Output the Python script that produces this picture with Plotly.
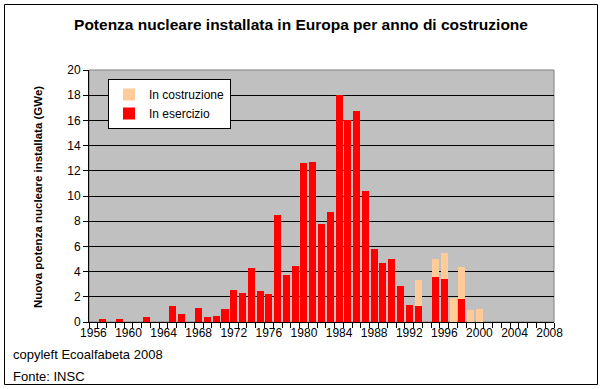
import plotly.graph_objects as go

years = list(range(1956, 2009))
in_esercizio = [0, 0.25, 0, 0.25, 0, 0, 0.42, 0, 0, 1.27,
                0.62, 0, 1.1, 0.4, 0.48, 1.03, 2.54, 2.3, 4.29, 2.46,
                2.22, 8.5, 3.7, 4.42, 12.6, 12.67, 7.75, 8.7, 18.0, 16.0,
                16.75, 10.37, 5.77, 4.68, 5.0, 2.83, 1.33, 1.25, 0, 3.55,
                3.39, 0, 1.8, 0, 0, 0, 0, 0, 0, 0,
                0, 0, 0]
in_costruzione = [0, 0, 0, 0, 0, 0, 0, 0, 0, 0,
                  0, 0, 0, 0, 0, 0, 0, 0, 0, 0,
                  0, 0, 0, 0, 0, 0, 0, 0, 0, 0,
                  0, 0, 0, 0, 0, 0, 0, 2.06, 0, 1.43,
                  2.09, 1.88, 2.54, 0.98, 1.03, 0, 0, 0, 0, 0,
                  0, 0, 0]
tick_years = [1956, 1960, 1964, 1968, 1972, 1976, 1980, 1984, 1988, 1992, 1996, 2000, 2004, 2008]

FONT = "Liberation Sans, Arial, sans-serif"

fig = go.Figure()
fig.add_trace(go.Bar(x=years, y=in_esercizio, name="In esercizio",
                     marker=dict(color="#FF0000", line=dict(width=0))))
fig.add_trace(go.Bar(x=years, y=in_costruzione, name="In costruzione",
                     marker=dict(color="#FFCC99", line=dict(width=0))))

L, R, T, B = 89, 48, 70, 67
W, H = 602, 389
pw, ph = W - L - R, H - T - B

def px_x(x):
    return (x - L) / pw

def px_y(y):
    return (H - B - y) / ph

fig.update_layout(
    width=W, height=H,
    margin=dict(l=L, r=R, t=T, b=B, pad=0),
    barmode="stack", bargap=0.2,
    paper_bgcolor="white", plot_bgcolor="#C0C0C0",
    font=dict(family=FONT, size=12, color="black"),
    title=dict(text="<b>Potenza nucleare installata in Europa per anno di costruzione</b>",
               x=0.5, xanchor="center", y=1 - 25 / H, yanchor="middle",
               font=dict(size=15.5, family=FONT, color="black")),
    showlegend=True,
    legend=dict(x=px_x(108), y=px_y(79), xanchor="left", yanchor="top",
                bgcolor="white", bordercolor="black", borderwidth=1,
                traceorder="reversed", font=dict(size=12, family=FONT),
                itemwidth=30, tracegroupgap=0),
    xaxis=dict(range=[1955.5, 2008.5], tickmode="array", tickvals=tick_years,
               ticktext=[str(t) for t in tick_years], ticks="",
               showline=True, linecolor="black", linewidth=1,
               showgrid=False, zeroline=False,
               tickfont=dict(size=12, family=FONT),
               minor=dict(ticks="outside", tick0=1955.5, dtick=1, ticklen=5,
                          tickcolor="black", showgrid=False)),
    yaxis=dict(range=[0, 20], tickmode="linear", tick0=0, dtick=2,
               ticks="outside", ticklen=5, tickcolor="black",
               showline=True, linecolor="black", linewidth=1,
               showgrid=True, gridcolor="black", gridwidth=1,
               zeroline=False, tickfont=dict(size=12, family=FONT)),
    shapes=[
        dict(type="rect", xref="paper", yref="paper", x0=0, x1=1, y0=0, y1=1,
             line=dict(color="#808080", width=1), layer="below"),
        dict(type="rect", xref="paper", yref="paper",
             x0=px_x(4.5), x1=px_x(597.5), y0=px_y(384.5), y1=px_y(4.5),
             line=dict(color="black", width=1)),
    ],
    annotations=[
        dict(text="<b>Nuova potenza nucleare installata (GWe)</b>", textangle=-90,
             xref="paper", yref="paper", x=px_x(38), y=px_y(197), showarrow=False,
             xanchor="center", yanchor="middle", font=dict(size=11.5, family=FONT)),
        dict(text="copyleft Ecoalfabeta 2008", xref="paper", yref="paper",
             x=px_x(11), y=px_y(354), xanchor="left", yanchor="middle",
             showarrow=False, font=dict(size=13, family=FONT)),
        dict(text="Fonte: INSC", xref="paper", yref="paper",
             x=px_x(11), y=px_y(376), xanchor="left", yanchor="middle",
             showarrow=False, font=dict(size=13, family=FONT)),
    ],
)

fig.write_html("out.html", config={"displayModeBar": False},
               post_script="document.body.style.margin='0px';document.body.style.overflow='hidden';")
